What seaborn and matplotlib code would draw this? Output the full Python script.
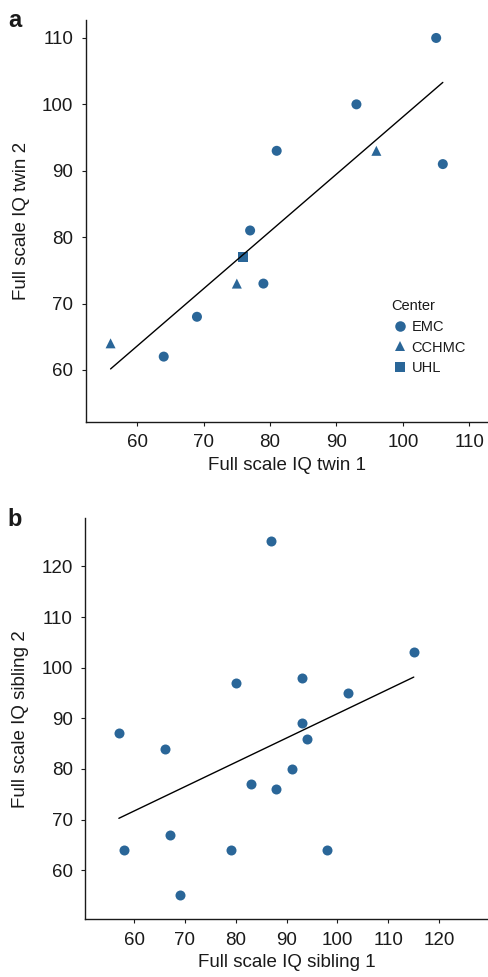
import pandas as pd
import seaborn as sns
import matplotlib.pyplot as plt

# panel a: twins, by center
twin1 = [64, 69, 77, 79, 81, 93, 105, 106, 56, 75, 96, 76]
twin2 = [62, 68, 81, 73, 93, 100, 110, 91, 64, 73, 93, 77]
center = ['EMC'] * 8 + ['CCHMC'] * 3 + ['UHL']

# panel b: siblings
sib1 = [57, 58, 66, 67, 69, 79, 80, 83, 87, 88, 91, 93, 93, 94, 98, 102, 115]
sib2 = [87, 64, 84, 67, 55, 64, 97, 77, 125, 76, 80, 98, 89, 86, 64, 95, 103]

blue = '#2a6698'
ink = '#1a1a1a'

sns.set_style('ticks')
plt.rcParams['font.family'] = ['Liberation Sans', 'DejaVu Sans']

df_a = pd.DataFrame({'x': twin1, 'y': twin2, 'Center': center})
df_b = pd.DataFrame({'x': sib1, 'y': sib2})

fig = plt.figure(figsize=(4.88, 9.77), dpi=100)
ax1 = fig.add_axes([0.1762, 0.5684, 0.8238, 0.4111])
ax2 = fig.add_axes([0.1748, 0.0591, 0.8252, 0.4104])

# panel a
sns.regplot(data=df_a, x='x', y='y', scatter=False, ci=None, ax=ax1,
            line_kws={'color': 'black', 'lw': 1})
sns.scatterplot(data=df_a, x='x', y='y', style='Center',
                markers={'EMC': 'o', 'CCHMC': '^', 'UHL': 's'},
                color=blue, s=52, linewidth=0, ax=ax1)
ax1.set_xlim(52.3, 112.8)
ax1.set_ylim(52.2, 112.7)
ax1.set_xticks([60, 70, 80, 90, 100, 110])
ax1.set_yticks([60, 70, 80, 90, 100, 110])
ax1.set_xlabel('Full scale IQ twin 1', fontsize=13.5)
ax1.set_ylabel('Full scale IQ twin 2', fontsize=13.5, labelpad=9)
leg = ax1.legend(title='Center', loc='upper left', bbox_to_anchor=(0.726, 0.337),
                 frameon=False, fontsize=10.5, title_fontsize=10.5,
                 handlelength=1.2, handletextpad=0.2, labelspacing=0.45,
                 markerscale=1.05)
leg._legend_box.align = 'left'
for t in leg.get_texts() + [leg.get_title()]:
    t.set_color(ink)

# panel b
sns.regplot(data=df_b, x='x', y='y', scatter=False, ci=None, ax=ax2,
            line_kws={'color': 'black', 'lw': 1})
sns.scatterplot(data=df_b, x='x', y='y', color=blue, s=52, linewidth=0, ax=ax2)
ax2.set_xlim(50.4, 129.6)
ax2.set_ylim(50.3, 129.5)
ax2.set_xticks([60, 70, 80, 90, 100, 110, 120])
ax2.set_yticks([60, 70, 80, 90, 100, 110, 120])
ax2.set_xlabel('Full scale IQ sibling 1', fontsize=13.5)
ax2.set_ylabel('Full scale IQ sibling 2', fontsize=13.5, labelpad=9)

for ax in (ax1, ax2):
    sns.despine(ax=ax)
    ax.tick_params(labelsize=13.5, length=3, width=0.8, pad=6, colors=ink,
                   labelcolor=ink)
    for sp in ('left', 'bottom'):
        ax.spines[sp].set_linewidth(1)
        ax.spines[sp].set_color(ink)
    ax.xaxis.label.set_color(ink)
    ax.yaxis.label.set_color(ink)

fig.text(0.016, 0.9795, 'a', fontsize=17, fontweight='bold', va='center', color=ink)
fig.text(0.016, 0.4678, 'b', fontsize=17, fontweight='bold', va='center', color=ink)

fig.savefig('out.png', dpi=100)
